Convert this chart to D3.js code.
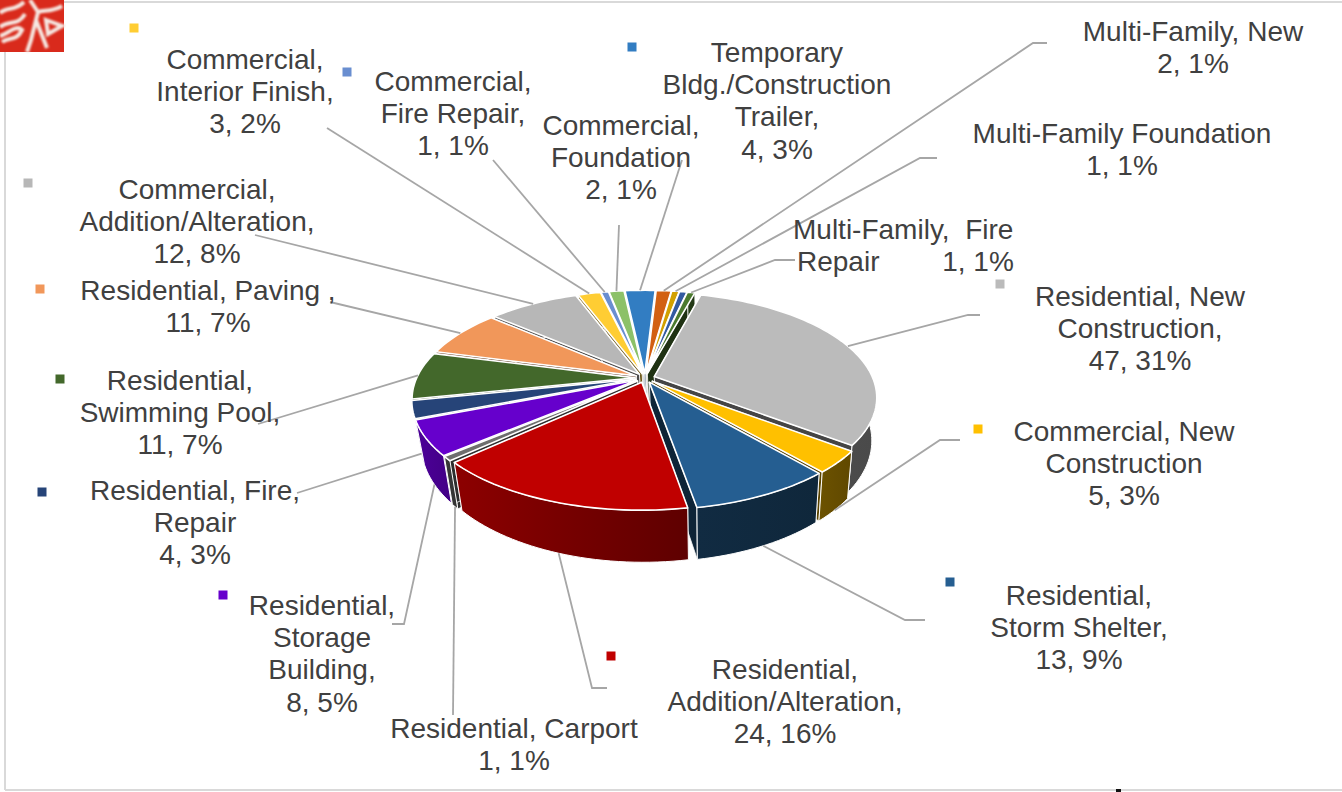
<!DOCTYPE html>
<html>
<head>
<meta charset="utf-8">
<script src="https://cdn.jsdelivr.net/npm/d3@7"></script>
<style>
  html, body { margin: 0; padding: 0; background: #fff; }
  svg { display: block; }
  text { font-family: "Liberation Sans", Arial, sans-serif; fill: #404040; white-space: pre; }
</style>
</head>
<body>
<div id="my_dataviz"></div>
<script>
const width = 1342, height = 792;

// slices, clockwise from the top of the pie
const categories = [
    "Residential, New\nConstruction,",
    "Commercial, New\nConstruction",
    "Residential,\nStorm Shelter,",
    "Residential,\nAddition/Alteration,",
    "Residential, Carport",
    "Residential,\nStorage\nBuilding,",
    "Residential, Fire,\nRepair",
    "Residential,\nSwimming Pool,",
    "Residential, Paving ,",
    "Commercial,\nAddition/Alteration,",
    "Commercial,\nInterior Finish,",
    "Commercial,\nFire Repair,",
    "Commercial,\nFoundation",
    "Temporary\nBldg./Construction\nTrailer,",
    "Multi-Family, New",
    "Multi-Family Foundation",
    "",                                // thin slice with no label in the picture
    "Multi-Family,  Fire\nRepair"
];
const values   = [47, 5, 13, 24, 1, 8, 4, 11, 11, 12, 3, 1, 2, 4, 2, 1, 1, 1];
const percents = [31, 3, 9, 16, 1, 5, 3, 7, 7, 8, 2, 1, 1, 3, 1, 1, 1, 1];
const colors = ["#bbbbbb", "#ffc000", "#255e91", "#c00000", "#6e6e6e", "#6600cc",
    "#264478", "#43682b", "#f1975a", "#b7b7b7", "#ffcd33", "#698ed0",
    "#8cc168", "#327dc2", "#d26012", "#d2a000", "#335aa1", "#4b7a2f"];
// how much darker the wall of each slice is than its top
const wallShade = [2.3, 2.4, 2.2, 0.9, 2, 0.9, 2, 2, 2, 2, 2, 2, 2, 2, 2, 2, 2, 2];

// label placement, same order as categories: text x, first line y, anchor,
// leader elbow points, leader ends on the wall bottom?, key square
const labelLayout = [
    {x: 1140, y: 296, elbow: [[980, 315], [968, 315]], key: [1000, 284]},
    {x: 1124, y: 431, elbow: [[960, 440], [940, 440]], wall: true, key: [978, 429]},
    {x: 1079, y: 595, elbow: [[925, 620], [905, 620]], wall: true, key: [950, 582]},
    {x: 785, y: 669, elbow: [[607, 688], [592, 688]], wall: true, key: [611, 656]},
    {x: 514, y: 728, elbow: [[453, 715]], wall: true},
    {x: 322, y: 605, elbow: [[392, 624], [404, 624]], wall: true, key: [223, 595]},
    {x: 195, y: 490, elbow: [[297, 493]], wall: true, key: [42, 492]},
    {x: 180, y: 380, elbow: [[258, 424]], key: [60, 379]},
    {x: 208, y: 290, elbow: [[330, 302]], key: [40, 289]},
    {x: 197, y: 189, elbow: [[255, 235]], key: [28, 183]},
    {x: 245, y: 59, elbow: [[327, 128]], key: [134, 28]},
    {x: 453, y: 81, elbow: [[493, 160]], key: [347, 72]},
    {x: 621, y: 125, elbow: [[619, 225]]},
    {x: 777, y: 52, elbow: [[682, 160]], key: [632, 47]},
    {x: 1193, y: 31, elbow: [[1047, 43], [1033, 43]]},
    {x: 1122, y: 133, elbow: [[937, 158], [920, 158]]},
    null,
    {x: 793, y: 229, anchor: "start", indent: [0, 4], valueAt: [978, 261], elbow: [[795, 260], [775, 260]]}
];

const cx = 645, cy = 378;    // pie apex on the page
const rx = 218.5, ry = 101;  // top face radii
const depth = 41.5;          // wall height
const explode = 0.045;
const perspective = 0.195;
const startDeg = 15.2;
const fontSize = 28, lineHeight = 32.3;

const svg = d3.select("#my_dataviz")
    .append("svg")
    .attr("width", width)
    .attr("height", height);

const defs = svg.append("defs");
defs.append("filter").attr("id", "soft")
    .append("feGaussianBlur").attr("stdDeviation", 0.8);

// page frame of the pasted screenshot
const frame = svg.append("g").attr("stroke", "#d9d9d9").attr("stroke-width", 2);
frame.append("line").attr("x1", 64).attr("y1", 2).attr("x2", width).attr("y2", 2);
frame.append("line").attr("x1", 5).attr("y1", 52).attr("x2", 5).attr("y2", 790);
frame.append("line").attr("x1", 5).attr("y1", 790).attr("x2", width).attr("y2", 790);
svg.append("rect").attr("x", 1116).attr("y", 789).attr("width", 5).attr("height", 3).attr("fill", "#111");

// logo corner
const logo = svg.append("g");
logo.append("rect").attr("width", 64).attr("height", 52).attr("fill", "#d92a1c");
logo.selectAll("path")
    .data([
        "M0 13 C8 6 14 12 24 2 M0 27 C10 20 18 26 25 14 M2 42 C10 36 16 42 22 30 C16 24 8 34 0 36",
        "M30 0 L38 12 L31 40 L27 52 M38 12 C44 10 52 12 62 6 M36 20 L47 48 M46 20 L62 26 L48 34 Z"
    ])
    .join("path")
    .attr("d", d => d)
    .attr("fill", "none")
    .attr("stroke", "#f6e8e2")
    .attr("stroke-width", 4)
    .attr("filter", "url(#soft)");

// world point on the unit circle -> page, with simple perspective
function project(a, m, r, lower) {
    const px = r * Math.sin(a) + explode * Math.sin(m);
    const pz = -r * Math.cos(a) - explode * Math.cos(m);
    const s = 1 / (1 - perspective * pz);
    let x = rx * px * s;
    let y = ry * pz * s;
    if (lower) {
        x = x * 0.97 + 2;
        y = y + depth * s;
    }
    return [cx + x, cy + y];
}

const pie = d3.pie()
    .sort(null)
    .value(d => d)
    .startAngle(startDeg * Math.PI / 180)
    .endAngle((360 + startDeg) * Math.PI / 180);

const arcs = pie(values).map(function (d, i) {
    return {i: i, a0: d.startAngle, a1: d.endAngle, m: (d.startAngle + d.endAngle) / 2};
});

const line = d3.line();

function outerPoints(d, lower) {
    const steps = Math.max(2, Math.ceil((d.a1 - d.a0) / 0.03));
    return d3.range(steps + 1).map(j => project(d.a0 + (d.a1 - d.a0) * j / steps, d.m, 1, lower));
}

// gradients for the walls
arcs.forEach(function (d) {
    const pts = outerPoints(d, true);
    const grad = defs.append("linearGradient")
        .attr("id", "wall" + d.i)
        .attr("gradientUnits", "userSpaceOnUse")
        .attr("x1", d3.min(pts, p => p[0]))
        .attr("x2", d3.max(pts, p => p[0]) + 1)
        .attr("y1", 0).attr("y2", 0);
    grad.append("stop").attr("offset", "0%").attr("stop-color", d3.rgb(colors[d.i]).darker(wallShade[d.i]));
    grad.append("stop").attr("offset", "100%").attr("stop-color", d3.rgb(colors[d.i]).darker(wallShade[d.i] + (d.i === 3 ? 1.1 : 0.3)));
});

// far slices first so the near ones paint over them
const order = arcs.slice().sort((p, q) => Math.cos(q.m) - Math.cos(p.m));
const pieG = svg.append("g");

order.forEach(function (d) {
    const g = pieG.append("g");
    const apexTop = project(0, d.m, 0, false);
    const apexLow = project(0, d.m, 0, true);
    const wallFill = "url(#wall" + d.i + ")";
    [d.a0, d.a1].forEach(function (a) {
        const t = project(a, d.m, 1, false), b = project(a, d.m, 1, true);
        g.append("path")
            .attr("d", line([apexTop, t, b, apexLow]) + "Z")
            .attr("fill", d3.rgb(colors[d.i]).darker(wallShade[d.i] + 0.5))
            .attr("stroke", "#fff").attr("stroke-width", 0.8);
    });
    const top = outerPoints(d, false), low = outerPoints(d, true);
    g.append("path")
        .attr("d", line(top.concat(low.reverse())) + "Z")
        .attr("fill", wallFill)
        .attr("stroke", "#fff").attr("stroke-width", 1);
    g.append("path")
        .attr("d", line([apexTop].concat(top)) + "Z")
        .attr("fill", colors[d.i])
        .attr("stroke", "#fff").attr("stroke-width", 1.6)
        .attr("stroke-linejoin", "round");
});

// leaders
const labelled = arcs.filter(d => labelLayout[d.i]);

svg.append("g").selectAll("path")
    .data(labelled)
    .join("path")
    .attr("d", function (d) {
        const end = project(d.m, d.m, 1, !!labelLayout[d.i].wall);
        return line(labelLayout[d.i].elbow.concat([end]));
    })
    .attr("fill", "none")
    .attr("stroke", "#a6a6a6")
    .attr("stroke-width", 1.8);

// key squares
svg.append("g").selectAll("rect")
    .data(labelled.filter(d => labelLayout[d.i].key))
    .join("rect")
    .attr("x", d => labelLayout[d.i].key[0] - 4.5)
    .attr("y", d => labelLayout[d.i].key[1] - 4.5)
    .attr("width", 9)
    .attr("height", 9)
    .attr("fill", d => colors[d.i]);

// labels
labelled.forEach(function (d) {
    const l = labelLayout[d.i];
    const valueText = values[d.i] + ", " + percents[d.i] + "%";
    let rows = categories[d.i].split("\n");
    if (!l.valueAt) rows = rows.concat([valueText]);
    const t = svg.append("text")
        .attr("text-anchor", l.anchor || "middle")
        .attr("font-size", fontSize);
    rows.forEach(function (row, j) {
        t.append("tspan")
            .attr("x", l.x + (l.indent ? l.indent[j] : 0))
            .attr("y", l.y + j * lineHeight)
            .attr("dy", "0.35em")
            .text(row);
    });
    if (l.valueAt) {
        svg.append("text")
            .attr("x", l.valueAt[0])
            .attr("y", l.valueAt[1])
            .attr("dy", "0.35em")
            .attr("text-anchor", "middle")
            .attr("font-size", fontSize)
            .text(valueText);
    }
});
</script>
</body>
</html>
